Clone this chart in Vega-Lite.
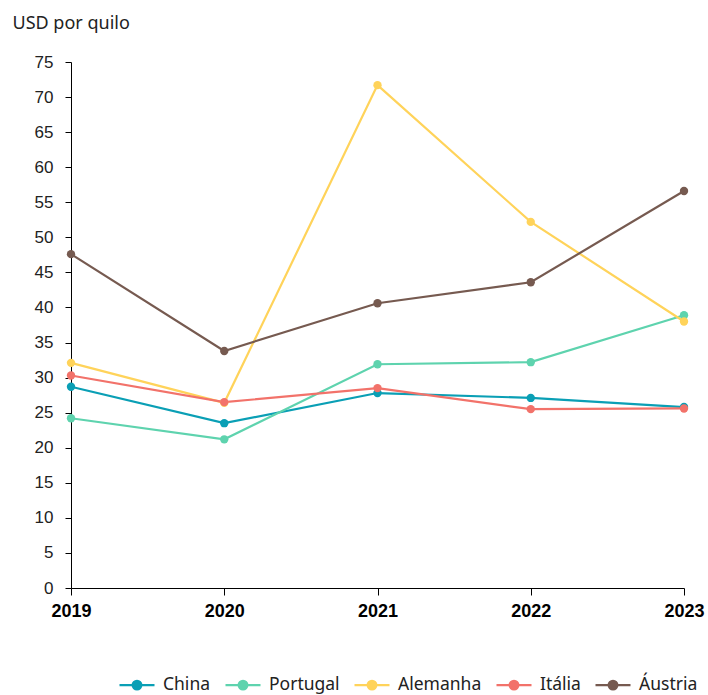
{
  "$schema": "https://vega.github.io/schema/vega-lite/v6.json",
  "width": 613,
  "height": 526,
  "autosize": {"type": "none"},
  "padding": {"left": 71, "top": 62, "right": 24, "bottom": 107},
  "background": "white",
  "config": {"view": {"stroke": null}},
  "data": {
    "values": [
      {"ano": "2019", "pais": "China", "valor": 28.7},
      {"ano": "2020", "pais": "China", "valor": 23.5},
      {"ano": "2021", "pais": "China", "valor": 27.8},
      {"ano": "2022", "pais": "China", "valor": 27.1},
      {"ano": "2023", "pais": "China", "valor": 25.8},
      {"ano": "2019", "pais": "Portugal", "valor": 24.2},
      {"ano": "2020", "pais": "Portugal", "valor": 21.2},
      {"ano": "2021", "pais": "Portugal", "valor": 31.9},
      {"ano": "2022", "pais": "Portugal", "valor": 32.2},
      {"ano": "2023", "pais": "Portugal", "valor": 38.9},
      {"ano": "2019", "pais": "Alemanha", "valor": 32.1},
      {"ano": "2020", "pais": "Alemanha", "valor": 26.4},
      {"ano": "2021", "pais": "Alemanha", "valor": 71.7},
      {"ano": "2022", "pais": "Alemanha", "valor": 52.2},
      {"ano": "2023", "pais": "Alemanha", "valor": 38.0},
      {"ano": "2019", "pais": "Itália", "valor": 30.3},
      {"ano": "2020", "pais": "Itália", "valor": 26.5},
      {"ano": "2021", "pais": "Itália", "valor": 28.5},
      {"ano": "2022", "pais": "Itália", "valor": 25.5},
      {"ano": "2023", "pais": "Itália", "valor": 25.6},
      {"ano": "2019", "pais": "Áustria", "valor": 47.6},
      {"ano": "2020", "pais": "Áustria", "valor": 33.8},
      {"ano": "2021", "pais": "Áustria", "valor": 40.6},
      {"ano": "2022", "pais": "Áustria", "valor": 43.6},
      {"ano": "2023", "pais": "Áustria", "valor": 56.6}
    ]
  },
  "mark": {"type": "line", "strokeWidth": 2.2, "point": {"filled": true, "size": 70, "opacity": 1}},
  "encoding": {
    "x": {
      "field": "ano", "type": "ordinal",
      "scale": {"type": "point", "padding": 0},
      "axis": {
        "title": null, "labelAngle": 0, "labelFont": "Liberation Sans", "labelFontSize": 18,
        "labelFontWeight": "bold", "labelColor": "#000000", "domainColor": "#000000",
        "tickColor": "#000000", "tickSize": 7, "labelPadding": 7, "grid": false
      }
    },
    "y": {
      "field": "valor", "type": "quantitative",
      "scale": {"domain": [0, 75], "nice": false},
      "axis": {
        "values": [0,5,10,15,20,25,30,35,40,45,50,55,60,65,70,75],
        "title": "USD por quilo", "titleAngle": 0, "titleAlign": "left", "titleBaseline": "alphabetic",
        "titleX": -59, "titleY": -34, "titleFont": "Noto Sans", "titleFontSize": 18,
        "titleFontWeight": "normal", "titleColor": "#222222",
        "labelFont": "Liberation Sans", "labelFontSize": 17, "labelColor": "#222222",
        "domainColor": "#000000", "tickColor": "#000000", "tickSize": 6, "labelPadding": 12, "grid": false
      }
    },
    "color": {
      "field": "pais", "type": "nominal",
      "scale": {
        "domain": ["China", "Portugal", "Alemanha", "Itália", "Áustria"],
        "range": ["#0A9FB5", "#5ED3AE", "#FFD35A", "#F2726A", "#765A50"]
      },
      "legend": {
        "title": null, "orient": "none", "direction": "horizontal",
        "legendX": 47, "legendY": 604,
        "symbolType": "M-1,0L1,0M-0.25,0A0.25,0.25 0 1,1 0.25,0A0.25,0.25 0 1,1 -0.25,0Z",
        "symbolSize": 1225, "symbolStrokeWidth": 2.2,
        "labelFont": "Noto Sans", "labelFontSize": 17.5, "labelColor": "#222222",
        "labelOffset": 7, "columnPadding": 10,
        "encode": {"symbols": {"update": {"fill": {"scale": "color", "field": "value"}, "fillOpacity": {"value": 1}}}}
      }
    },
    "order": {"field": "ano"}
  }
}
